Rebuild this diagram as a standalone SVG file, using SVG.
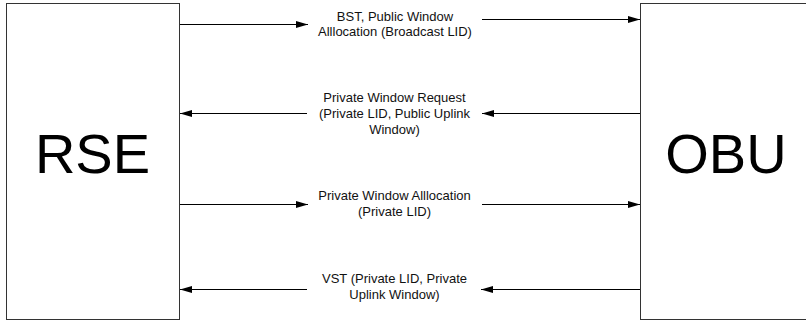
<svg xmlns="http://www.w3.org/2000/svg" width="806" height="322" viewBox="0 0 806 322">
  <style>
    .box { fill: #ffffff; stroke: #333333; stroke-width: 1; }
    .node-label { font-family: "Liberation Sans", Arial, sans-serif; font-size: 56px; fill: #000000; text-anchor: middle; }
    .msg { font-family: "Liberation Sans", Arial, sans-serif; font-size: 13px; fill: #111111; text-anchor: middle; }
    .wire { stroke: #000000; stroke-width: 1; fill: none; marker-end: url(#head); }
  </style>
  <defs>
    <marker id="head" markerUnits="userSpaceOnUse" markerWidth="12" markerHeight="8" viewBox="0 0 12 8" refX="12" refY="4" orient="auto">
      <path d="M0,0.5 L12,4 L0,7.5 Z" fill="#000000"/>
    </marker>
  </defs>
  <rect width="806" height="322" fill="#ffffff"/>

  <g id="rse">
    <rect class="box" x="6.5" y="3.5" width="173" height="316"/>
    <text class="node-label" x="92.5" y="173">RSE</text>
  </g>

  <g id="obu">
    <rect class="box" x="640.5" y="3.5" width="173" height="316"/>
    <text class="node-label" x="726" y="173">OBU</text>
  </g>

  <g id="connectors">
    <!-- BST, public window allocation: RSE to OBU -->
    <line class="wire" x1="180" y1="24.5" x2="308" y2="24.5"/>
    <line class="wire" x1="482" y1="19.5" x2="640" y2="19.5"/>
    <!-- Private window request: OBU to RSE -->
    <line class="wire" x1="307" y1="113.5" x2="180" y2="113.5"/>
    <line class="wire" x1="640" y1="113.5" x2="482" y2="113.5"/>
    <!-- Private window allocation: RSE to OBU -->
    <line class="wire" x1="180" y1="204.5" x2="308" y2="204.5"/>
    <line class="wire" x1="482" y1="204.5" x2="640" y2="204.5"/>
    <!-- VST: OBU to RSE -->
    <line class="wire" x1="307" y1="289.5" x2="180" y2="289.5"/>
    <line class="wire" x1="640" y1="289.5" x2="481" y2="289.5"/>
  </g>

  <g id="labels">
    <text class="msg" x="395" y="21">BST, Public Window</text>
    <text class="msg" x="395" y="36">Alllocation (Broadcast LID)</text>

    <text class="msg" x="394.5" y="102">Private Window Request</text>
    <text class="msg" x="394.5" y="118">(Private LID, Public Uplink</text>
    <text class="msg" x="394.5" y="134">Window)</text>

    <text class="msg" x="394.5" y="200">Private Window Alllocation</text>
    <text class="msg" x="394.5" y="216">(Private LID)</text>

    <text class="msg" x="394.5" y="283">VST (Private LID, Private</text>
    <text class="msg" x="394.5" y="299">Uplink Window)</text>
  </g>
</svg>
